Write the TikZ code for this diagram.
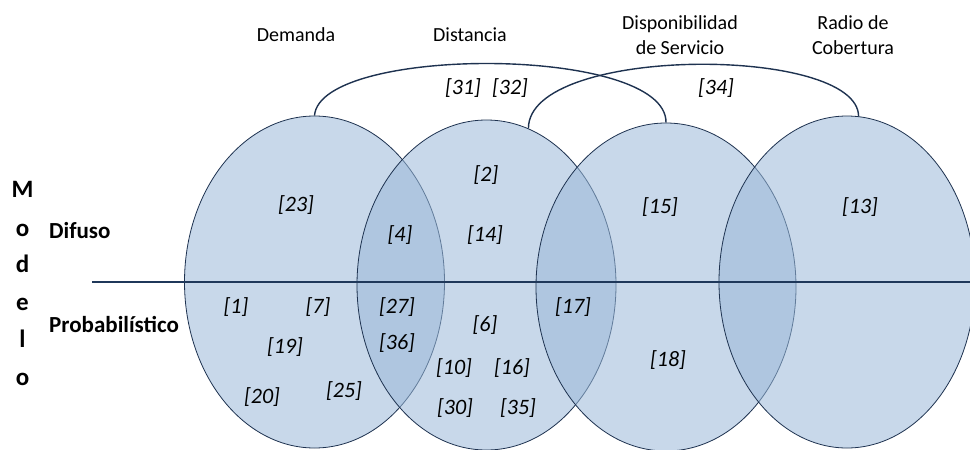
\documentclass[tikz,border=0pt]{standalone}
\usepackage{fontspec}
\setmainfont{Carlito}
\usetikzlibrary{shapes.geometric}
\definecolor{vfill}{RGB}{154,184,216}
\definecolor{vline}{RGB}{30,50,80}
\definecolor{hline}{RGB}{31,56,90}
\begin{document}
\begin{tikzpicture}[x=1pt,y=-1pt,
  venn/.style={ellipse, inner sep=0pt, fill=vfill, fill opacity=0.55, draw=vline, draw opacity=1, line width=0.8pt},
  toplbl/.style={font=\fontsize{20}{25}\selectfont, align=center, text=black},
  ref/.style={font=\fontsize{22}{26}\selectfont\itshape, text=black, inner sep=0pt},
  side/.style={font=\fontsize{23}{27}\selectfont\bfseries, text=black, inner sep=0pt},
  vert/.style={font=\fontsize{25}{29}\selectfont\bfseries, text=black, inner sep=0pt},
  link/.style={draw=vline, line width=1.4pt}]
\useasboundingbox (0,0) rectangle (970,450);
\begin{scope}
\clip (0,0) rectangle (970,450);
\node[venn, minimum width=260pt, minimum height=332pt] (e1) at (314.5,282) {};
\node[venn, minimum width=259pt, minimum height=330pt] (e2) at (486.5,285) {};
\node[venn, minimum width=260pt, minimum height=328pt] (e3) at (666,287) {};
\node[venn, minimum width=256pt, minimum height=332pt] (e4) at (847,282) {};
\end{scope}
\coordinate (hl) at (92,282);
\coordinate (hr) at (970,282);
\draw[draw=hline, line width=1.6pt] (hl) -- (hr);
% arcs
\draw[link] (e1.north) .. controls (320,45) and (667,45) .. (e3.north);
\draw[link] (e2.75) .. controls (528,45) and (858,45) .. (e4.86);
% top labels
\node[toplbl, anchor=base] (tdem) at (296,41.5) {Demanda};
\node[toplbl, anchor=base] (tdis) at (470,41) {Distancia};
\node[toplbl] (tdisp) at (680,35) {Disponibilidad\\de Servicio};
\node[toplbl] (trad) at (853,35) {Radio de\\Cobertura};
% side labels
\foreach \l/\y [count=\i] in {M/197,o/236,d/272,e/310,l/347,o/385}{
  \node[vert, anchor=base] (m\i) at (22.5,\y) {\l};
}
\node[side, anchor=base west] (dif) at (49,238) {Difuso};
\node[side, anchor=base west] (prob) at (49,332) {Probabilístico};
% references
\node[ref] (r31) at (463,88) {[31]};
\node[ref] (r32) at (510,88) {[32]};
\node[ref] (r34) at (716,88) {[34]};
\node[ref] (r23) at (296,205) {[23]};
\node[ref] (r2) at (486,175) {[2]};
\node[ref] (r14) at (485,235) {[14]};
\node[ref] (r4) at (400,235) {[4]};
\node[ref] (r15) at (660,207) {[15]};
\node[ref] (r13) at (860,207) {[13]};
\node[ref] (r1) at (236,307) {[1]};
\node[ref] (r7) at (318,307) {[7]};
\node[ref] (r27) at (397,307) {[27]};
\node[ref] (r6) at (485,325) {[6]};
\node[ref] (r17) at (573,307) {[17]};
\node[ref] (r19) at (285,347) {[19]};
\node[ref] (r36) at (397,343) {[36]};
\node[ref] (r10) at (454,368) {[10]};
\node[ref] (r16) at (512,368) {[16]};
\node[ref] (r18) at (668,360) {[18]};
\node[ref] (r20) at (262,397) {[20]};
\node[ref] (r25) at (344,391) {[25]};
\node[ref] (r30) at (455,408) {[30]};
\node[ref] (r35) at (518,408) {[35]};
\end{tikzpicture}
\end{document}
